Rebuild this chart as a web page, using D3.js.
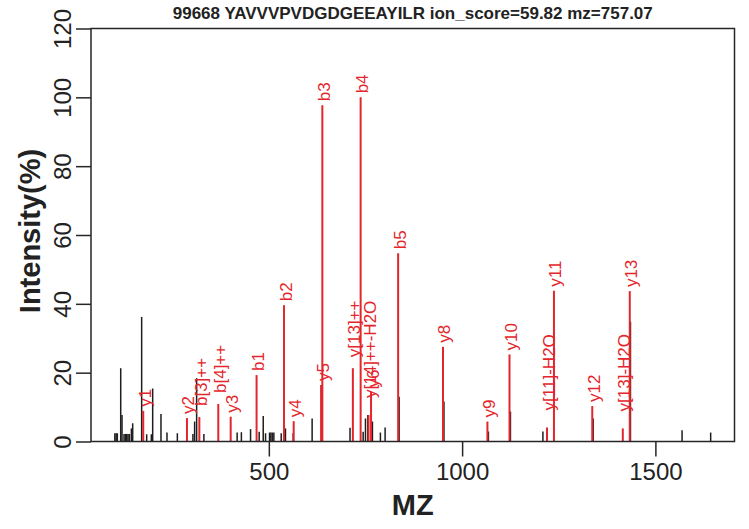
<!DOCTYPE html>
<html>
<head>
<meta charset="utf-8">
<script src="https://cdn.jsdelivr.net/npm/d3@7"></script>
<style>
  html, body { margin: 0; padding: 0; background: #fff; }
  svg { display: block; font-family: "Liberation Sans", Arial, Helvetica, sans-serif; }
</style>
</head>
<body>
<svg id="chart" width="749" height="529"></svg>
<script>
// ---- data ----
const titleText = "99668 YAVVVPVDGDGEEAYILR ion_score=59.82 mz=757.07";
const xLabel = "MZ";
const yLabel = "Intensity(%)";

// unannotated peaks (black)
const peakMz = [101.6, 105, 108, 116.8, 120.2, 125.4, 129, 132.3, 135.7, 139.3, 144.4, 147.8,
  171, 184, 196, 199.5, 221, 236.5, 263.3, 303.6, 308, 313.2, 332, 418, 429, 452.7, 475,
  485.5, 491.5, 501.8, 505.2, 508.8, 513, 532, 543, 563, 612, 636, 710, 744, 750, 756, 768,
  788.6, 800.8, 837, 953, 1068, 1125, 1209, 1339, 1435.5, 1569, 1643];
const peakInt = [2.4, 2.4, 2.4, 21.3, 7.7, 2.2, 2.2, 2.2, 2.2, 2.2, 3.8, 5.3,
  36.2, 2.1, 2.1, 15.4, 8, 2.6, 2.4, 2.2, 5.8, 18.4, 2.2, 2.6, 2.7, 3.6, 2.8,
  7.4, 2.4, 2.6, 2.6, 2.6, 2.6, 2.4, 3.8, 2.5, 6.7, 16.4, 4, 2.8, 6.7, 7.7, 5.8,
  2.6, 4.1, 13, 11.6, 2.9, 8.7, 2.9, 6.7, 34.8, 3.3, 2.6];

// annotated fragment ions (red)
const ionLabels = ["y1", "y2", "b[3]++", "b[4]++", "y3", "b1", "b2", "y4", "y5", "b3", "y[13]++",
  "b4", "y[14]++-H2O", "y6", "b5", "y8", "y9", "y10", "y[11]-H2O", "y11", "y12", "y[13]-H2O", "y13"];
const ionMz = [175.1, 288.2, 320.2, 369.2, 401.3, 468.3, 539.3, 564.3, 635.4, 638.4, 717.4,
  737.5, 757.9, 764.4, 834.5, 950.5, 1065.5, 1122.6, 1219.6, 1237.6, 1336.7, 1415.7, 1433.7];
const ionInt = [8.9, 6.8, 7.1, 10.9, 7.2, 19.3, 39.6, 5.9, 16.4, 97.7, 21.3,
  100, 7.7, 14.5, 54.7, 27.5, 5.8, 25.3, 4.1, 43.8, 10.3, 3.8, 43.7];

const xTicks = [500, 1000, 1500];
const yTicks = [0, 20, 40, 60, 80, 100, 120];
const yMax = 120;

// ---- layout ----
const svg = d3.select("#chart");
const mLeft = 91, mRight = 734.5, mTop = 28.5, mBottom = 441.5;
const axisColor = "#262626";
const red = "#e3262b";

const allMz = peakMz.concat(ionMz);
const [mn, mx] = d3.extent(allMz);
const pad = (mx - mn) * 0.04;
const x = d3.scaleLinear().domain([mn - pad, mx + pad]).range([mLeft, mRight]);
const y = d3.scaleLinear().domain([0, yMax]).range([mBottom, mTop]);

// black peaks
svg.append("g").selectAll("line").data(peakMz.map((m, i) => ({m, v: peakInt[i]})))
  .join("line")
  .attr("x1", d => x(d.m)).attr("x2", d => x(d.m))
  .attr("y1", y(0)).attr("y2", d => y(d.v))
  .attr("stroke", "#1e1e1e").attr("stroke-width", 1.5);

// red peaks
const ions = ionMz.map((m, i) => ({m, v: ionInt[i], label: ionLabels[i]}));
svg.append("g").selectAll("line").data(ions)
  .join("line")
  .attr("x1", d => x(d.m)).attr("x2", d => x(d.m))
  .attr("y1", y(0)).attr("y2", d => y(d.v))
  .attr("stroke", red).attr("stroke-width", 2);

// gap between peak top and label start (bracketed labels sit higher)
function labelGap(s) {
  if (s.indexOf("H2O") >= 0) return 17;
  if (s.indexOf("[") >= 0) return 11;
  return 4;
}

svg.append("g").selectAll("text").data(ions)
  .join("text")
  .attr("transform", d => `translate(${x(d.m) + 2},${y(d.v) - labelGap(d.label)}) rotate(-90)`)
  .attr("text-anchor", "start")
  .attr("dominant-baseline", "central")
  .attr("font-size", 17)
  .attr("fill", red)
  .text(d => d.label);

// box
svg.append("rect")
  .attr("x", mLeft).attr("y", mTop)
  .attr("width", mRight - mLeft).attr("height", mBottom - mTop)
  .attr("fill", "none").attr("stroke", axisColor).attr("stroke-width", 1.5);

// x axis
const xAxis = d3.axisBottom(x).tickValues(xTicks).tickSize(15).tickPadding(6).tickFormat(d3.format("d"));
const gx = svg.append("g").attr("transform", `translate(0,${mBottom})`).call(xAxis);
gx.select(".domain").remove();
gx.selectAll(".tick line").attr("stroke", axisColor).attr("stroke-width", 1.5);
gx.selectAll(".tick text").attr("font-size", 24).attr("fill", "#222")
  .attr("font-family", "Liberation Sans, Arial, sans-serif").attr("dy", "0.71em");

// y axis
const yAxis = d3.axisLeft(y).tickValues(yTicks).tickSize(15).tickFormat(d3.format("d"));
const gy = svg.append("g").attr("transform", `translate(${mLeft},0)`).call(yAxis);
gy.select(".domain").remove();
gy.selectAll(".tick line").attr("stroke", axisColor).attr("stroke-width", 1.5);
gy.selectAll(".tick text")
  .attr("x", null).attr("dy", null)
  .attr("transform", "translate(-20,0) rotate(-90)")
  .attr("text-anchor", "middle")
  .attr("dominant-baseline", "auto")
  .attr("font-size", 24).attr("fill", "#222")
  .attr("font-family", "Liberation Sans, Arial, sans-serif");

// title
svg.append("text")
  .attr("x", (mLeft + mRight) / 2).attr("y", 19)
  .attr("text-anchor", "middle")
  .attr("font-weight", "bold").attr("font-size", 17).attr("fill", "#222")
  .text(titleText);

// axis titles
svg.append("text")
  .attr("x", (mLeft + mRight) / 2).attr("y", 515)
  .attr("text-anchor", "middle")
  .attr("font-weight", "bold").attr("font-size", 29).attr("fill", "#222")
  .text(xLabel);

svg.append("text")
  .attr("transform", `translate(40,${(mTop + mBottom) / 2 - 4}) rotate(-90)`)
  .attr("text-anchor", "middle")
  .attr("font-weight", "bold").attr("font-size", 29).attr("fill", "#222")
  .text(yLabel);
</script>
</body>
</html>
